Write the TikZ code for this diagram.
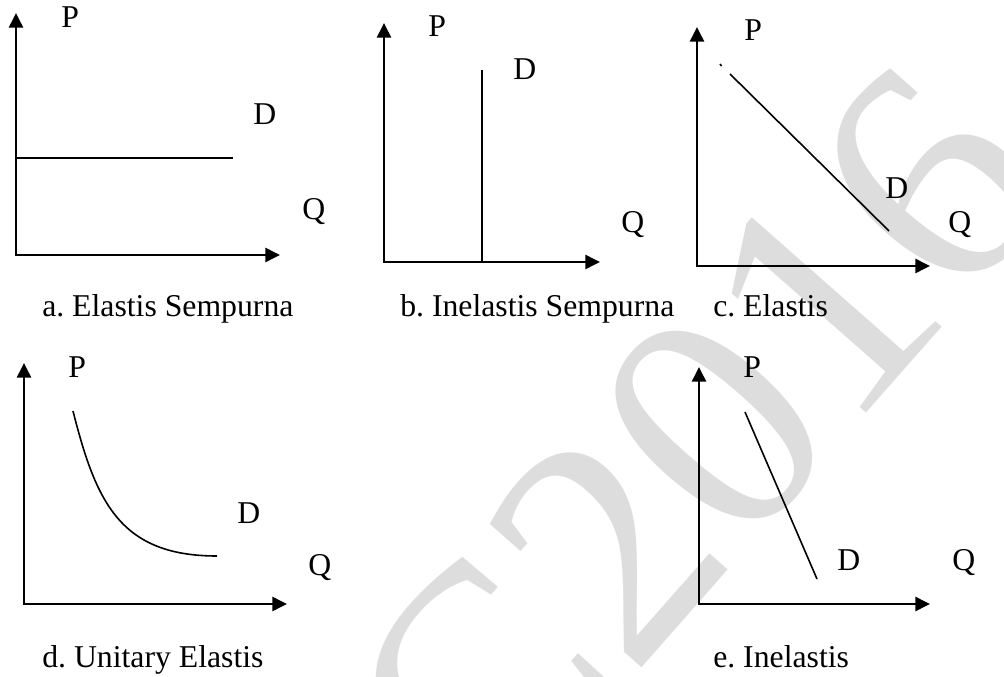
\documentclass[tikz,border=0pt]{standalone}
\usepackage{fontspec}
\setmainfont{Liberation Serif}
\usetikzlibrary{arrows.meta}
\definecolor{wmgray}{RGB}{221,221,221}

\begin{document}
\frenchspacing
\begin{tikzpicture}[
    x=0.75pt, y=-0.75pt,
    every node/.style={font=\fontsize{23.8}{28}\selectfont, inner sep=0pt},
    axis/.style={{Triangle[length=11pt, width=10.5pt]}-{Triangle[length=11pt, width=10.5pt]},
                 line width=1.9pt},
    demand/.style={line width=1.2pt},
    lbl/.style={anchor=base west},
    caption/.style={anchor=base west},
    wmark/.style={text=wmgray, font=\fontsize{244}{244}\selectfont}
]
    \useasboundingbox (0,0) rectangle (1004,677);
    % watermark
    \begin{scope}
        \clip (0,0) rectangle (1004,677);
        \node[wmark, rotate=48.6] (stamp) at (696,445) {C2016};
    \end{scope}

    % a. perfectly elastic
    \coordinate (oa) at (16,255);
    \coordinate (pa) at (16,13);
    \coordinate (qa) at (280,255);
    \draw[axis] (pa) -- (oa) -- (qa);
    \coordinate (da1) at (16,158);
    \coordinate (da2) at (233,158);
    \draw[demand] (da1) -- (da2);
    \node[lbl] (Pa) at (61,28) {P};
    \node[lbl] (Da) at (253,125) {D};
    \node[lbl] (Qa) at (302,220) {Q};
    \node[caption] (capa) at (42,317) {a. Elastis Sempurna};

    % b. perfectly inelastic
    \coordinate (ob) at (384,262);
    \coordinate (pb) at (384,23);
    \coordinate (qb) at (600,262);
    \draw[axis] (pb) -- (ob) -- (qb);
    \coordinate (db1) at (482,70);
    \coordinate (db2) at (482,262);
    \draw[demand] (db1) -- (db2);
    \node[lbl] (Pb) at (428,37) {P};
    \node[lbl] (Db) at (513,80) {D};
    \node[lbl] (Qb) at (621,233) {Q};
    \node[caption] (capb) at (400,317) {b. Inelastis Sempurna};

    % c. elastic
    \coordinate (oc) at (697,266);
    \coordinate (pc) at (697,27);
    \coordinate (qc) at (930,266);
    \draw[axis] (pc) -- (oc) -- (qc);
    \coordinate (dc0) at (720,64);
    \coordinate (dc1) at (730,74);
    \coordinate (dc2) at (889,231);
    \draw[demand] (dc0) -- ++(1.5,2);
    \draw[demand] (dc1) -- (dc2);
    \node[lbl] (Pc) at (744,41) {P};
    \node[lbl] (Dc) at (885,199) {D};
    \node[lbl] (Qc) at (948,233) {Q};
    \node[caption] (capc) at (713,317) {c. Elastis};

    % d. unitary elastic
    \coordinate (od) at (24,604);
    \coordinate (pd) at (24,363);
    \coordinate (qd) at (287,604);
    \draw[axis] (pd) -- (od) -- (qd);
    \coordinate (dd1) at (73,411);
    \coordinate (dd2) at (217,556);
    \draw[demand] (dd1) .. controls (96,502) and (120,556) .. (dd2);
    \node[lbl] (Pd) at (68,378) {P};
    \node[lbl] (Dd) at (237,523) {D};
    \node[lbl] (Qd) at (308,575) {Q};
    \node[caption] (capd) at (42,667) {d. Unitary Elastis};

    % e. inelastic
    \coordinate (oe) at (699,604);
    \coordinate (pe) at (699,367);
    \coordinate (qe) at (930,604);
    \draw[axis] (pe) -- (oe) -- (qe);
    \coordinate (de1) at (745,412);
    \coordinate (de2) at (817,579);
    \draw[demand] (de1) -- (de2);
    \node[lbl] (Pe) at (743,378) {P};
    \node[lbl] (De) at (837,570) {D};
    \node[lbl] (Qe) at (952,570) {Q};
    \node[caption] (cape) at (713,667) {e. Inelastis};
\end{tikzpicture}
\end{document}
